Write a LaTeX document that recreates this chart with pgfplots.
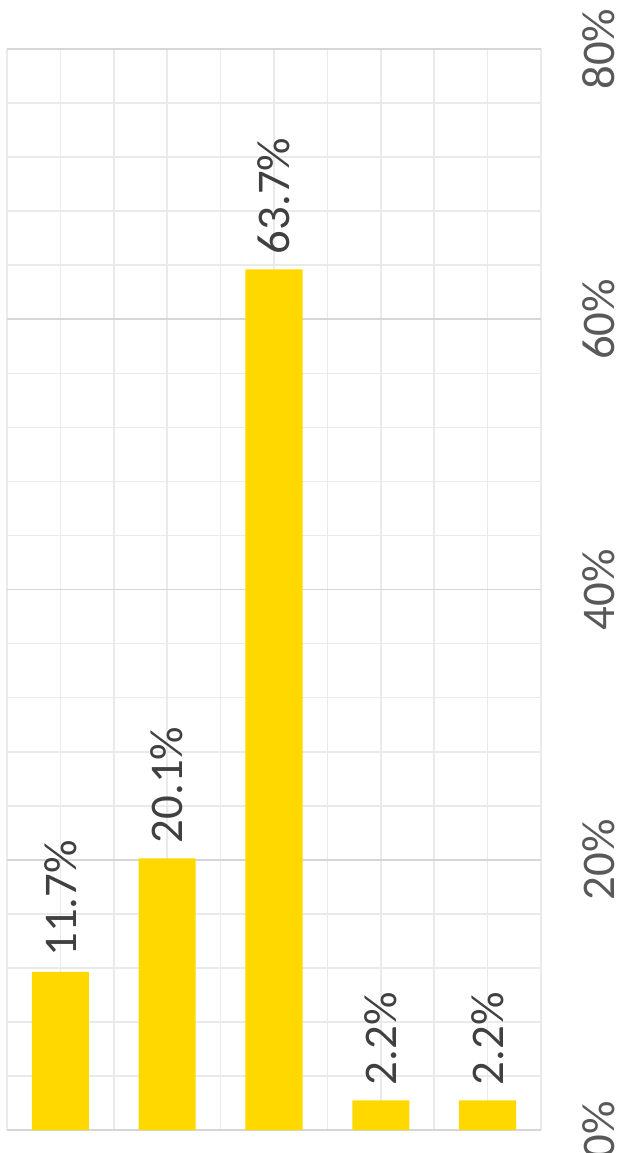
\documentclass[border=0pt]{standalone}
\usepackage{fontspec}
\setmainfont{Carlito}
\usepackage{pgfplots}
\pgfplotsset{compat=1.18}
\definecolor{barYellow}{HTML}{FFD800}
\definecolor{tickGray}{HTML}{595959}
\definecolor{labelGray}{HTML}{404040}
\definecolor{gridLight}{HTML}{EAEAEA}
\definecolor{gridMajor}{HTML}{D6D6D6}

\begin{document}
\begin{tikzpicture}
\begin{axis}[
  at={(0,0)}, anchor=south west,
  scale only axis,
  width=534bp, height=1081bp,
  xmin=-0.5, xmax=4.5,
  ymin=0, ymax=80,
  xtick={0,1,2,3,4},
  xticklabels={},
  minor xtick={-0.5,0.5,1.5,2.5,3.5,4.5},
  ytick={0,20,40,60,80},
  yticklabels={0\%,20\%,40\%,60\%,80\%},
  minor ytick={4,8,12,16,24,28,32,36,44,48,52,56,64,68,72,76},
  extra y ticks={0},
  extra y tick labels={},
  extra y tick style={major y grid style={draw=gridMajor, line width=2.4bp}},
  grid=both,
  major x grid style={draw=gridLight, line width=1.7bp},
  minor x grid style={draw=gridLight, line width=1.7bp},
  major y grid style={draw=gridMajor, line width=1.8bp},
  minor y grid style={draw=gridLight, line width=1.7bp},
  axis line style={draw=none},
  major tick length=0pt, minor tick length=0pt,
  yticklabel pos=right,
  yticklabel style={font=\fontsize{47}{50}\selectfont, text=tickGray,
    inner sep=0pt, xshift=41bp, rotate=90, anchor=north},
  ybar, bar width=57bp,
  nodes near coords,
  point meta=explicit symbolic,
  every node near coord/.append style={font=\fontsize{47}{50}\selectfont,
    text=labelGray, inner sep=0pt, yshift=15bp, rotate=90, anchor=west},
]
\addplot[fill=barYellow, draw=none] coordinates {
  (0,11.7) [11.7\%]
  (1,20.1) [20.1\%]
  (2,63.7) [63.7\%]
  (3,2.2)  [2.2\%]
  (4,2.2)  [2.2\%]
};
\end{axis}
\pgfresetboundingbox
\useasboundingbox (-7bp,-23bp) rectangle (612bp,1130bp);
\end{tikzpicture}
\end{document}
